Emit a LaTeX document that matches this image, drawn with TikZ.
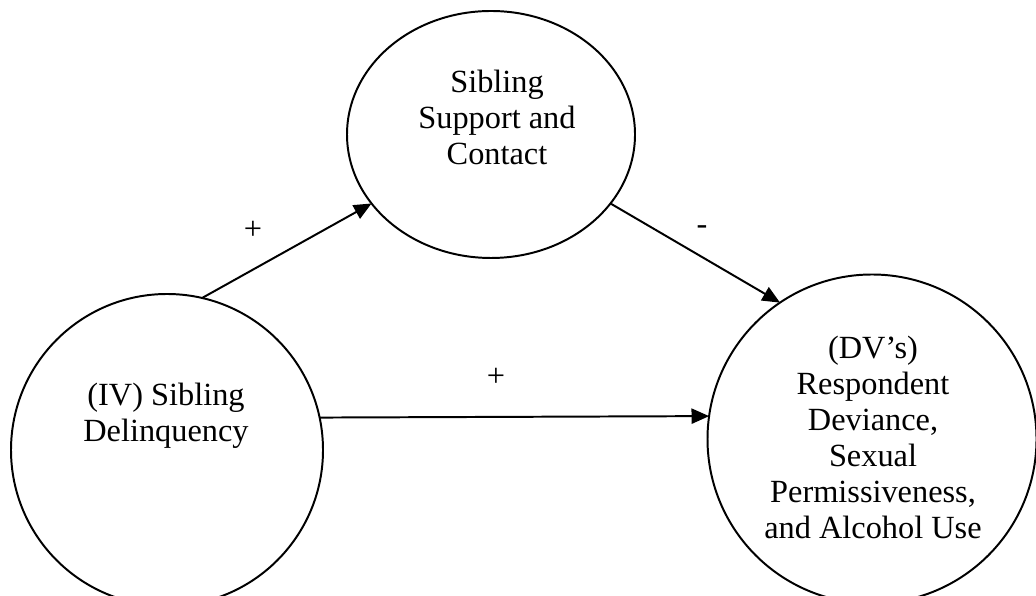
\documentclass[tikz,border=0pt]{standalone}
\usepackage{fontspec}
\setmainfont{Liberation Serif}
\usetikzlibrary{shapes.geometric,arrows.meta}

\begin{document}
\begin{tikzpicture}[font=\fontsize{23pt}{25.6pt}\selectfont,>={Triangle[length=0.44cm,width=0.38cm]},
	var/.style={draw,line width=1.4pt,inner sep=0pt,outer sep=0pt},
	txt/.style={align=center,inner sep=0pt},
	path/.style={->,line width=1.4pt}]
\useasboundingbox (0,0) rectangle (25.9,14.9);

%========================================
% Variables
%========================================
% IV (left)
\node[var,circle,minimum size=7.8cm] (iv) at (4.175,3.65) {};
\node[txt] (ivtxt) at (4.15,4.5) {(IV) Sibling\\Delinquency};

% Mediator (top)
\node[var,ellipse,minimum width=7.2cm,minimum height=6.175cm] (ss) at (12.275,11.5375) {};
\node[txt] (sstxt) at (12.425,11.975) {Sibling\\Support and\\Contact};

% DV's (right)
\node[var,circle,minimum size=8.225cm] (dv) at (21.8,3.925) {};
\node[txt] (dvtxt) at (21.825,3.975) {(DV’s)\\Respondent\\Deviance,\\Sexual\\Permissiveness,\\and Alcohol Use};

%========================================
% Paths and signs
%========================================
\draw[path] (iv.77) -- (ss.210);
\draw[path] (ss.330) -- (dv.124);
\draw[path] (iv.12) -- (dv.172.5);

\node (signa) at (6.325,9.15) {+};
\node (signb) at (17.55,9.15) {-};
\node (signc) at (12.4,5.475) {+};
\end{tikzpicture}
\end{document}
